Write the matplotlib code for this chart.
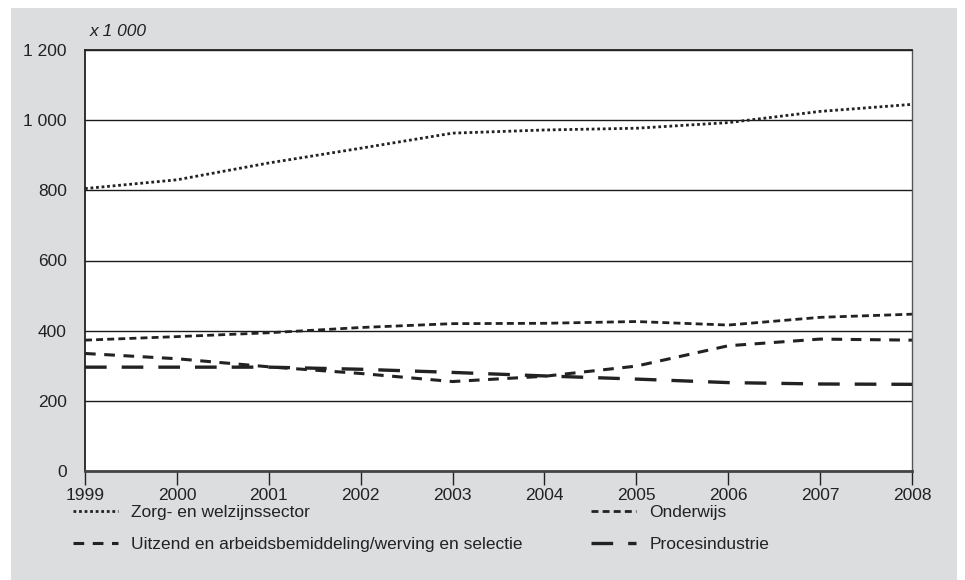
import matplotlib
matplotlib.use("Agg")
import matplotlib.pyplot as plt
from matplotlib.patches import Rectangle
from matplotlib.lines import Line2D

plt.rcParams['font.family'] = ['Liberation Sans', 'DejaVu Sans']

years = [1999, 2000, 2001, 2002, 2003, 2004, 2005, 2006, 2007, 2008]
zorg = [805, 830, 878, 920, 963, 972, 977, 993, 1025, 1045]
onderwijs = [373, 383, 394, 409, 420, 421, 426, 416, 438, 447]
uitzend = [335, 320, 297, 278, 255, 270, 299, 357, 376, 373]
proces = [296, 296, 296, 290, 281, 271, 262, 252, 248, 247]
yticks = [0, 200, 400, 600, 800, 1000, 1200]
ytick_labels = ['0', '200', '400', '600', '800', '1 000', '1 200']
labels = ['Zorg- en welzijnssector', 'Onderwijs',
          'Uitzend en arbeidsbemiddeling/werving en selectie', 'Procesindustrie']

W, H = 965, 580
fig = plt.figure(figsize=(W / 100, H / 100), dpi=100)
fig.patch.set_facecolor('white')
bg = Rectangle((11 / W, 0), (957 - 11) / W, (580 - 8) / H,
               transform=fig.transFigure, facecolor='#dcdddf',
               edgecolor='none', zorder=-10)
fig.patches.append(bg)

ax = fig.add_axes([85 / W, 1 - 471 / H, (912 - 85) / W, (471 - 50) / H])
ax.set_zorder(1)
ax.set_facecolor('white')

styles = {
    'zorg': dict(lw=2.0, ls=(0, (1, 1))),
    'onderwijs': dict(lw=2.0, ls=(0, (2.5, 1.5))),
    'uitzend': dict(lw=2.2, ls=(0, (3.5, 2.8))),
    'proces': dict(lw=2.4, ls=(0, (6.5, 4.5))),
}
col = '#222222'
l1, = ax.plot(years, zorg, color=col, **styles['zorg'])
l2, = ax.plot(years, onderwijs, color=col, **styles['onderwijs'])
l3, = ax.plot(years, uitzend, color=col, **styles['uitzend'])
l4, = ax.plot(years, proces, color=col, **styles['proces'])
for l in (l1, l2, l3, l4):
    l.set_dash_capstyle('butt')
    l.set_clip_on(False)

ax.set_xlim(1999, 2008)
ax.set_ylim(0, 1200)
ax.set_yticks(yticks)
ax.set_yticklabels(ytick_labels)
ax.set_xticks(years)
ax.set_xticklabels([str(y) for y in years])
ax.yaxis.grid(True, color='#1a1a1a', lw=1.0)
ax.set_axisbelow(True)
ax.tick_params(axis='y', length=0, pad=13, labelsize=12.5, colors=col)
ax.tick_params(axis='x', length=10, width=1.0, pad=2, labelsize=12.5,
               colors=col, direction='out')
for s in ('left', 'top'):
    ax.spines[s].set_color(col)
    ax.spines[s].set_linewidth(1.3)
ax.spines['right'].set_color('#555555')
ax.spines['right'].set_linewidth(1.0)
ax.spines['bottom'].set_color('#444444')
ax.spines['bottom'].set_linewidth(2.0)

fig.text(90 / W, 1 - 32 / H, 'x 1 000', fontsize=12.5, style='italic',
         color=col, va='center', ha='left')

h = lambda st: Line2D([], [], color=col, **st)
common = dict(loc='upper left', frameon=False, fontsize=12.5, handlelength=2.6,
              handletextpad=0.75, labelspacing=0.95, borderaxespad=0, borderpad=0)
leg1 = fig.legend([h(styles['zorg']), h(styles['uitzend'])], [labels[0], labels[2]],
                  bbox_to_anchor=(73 / W, 1 - 505 / H), **common)
leg2 = fig.legend([h(styles['onderwijs']), h(styles['proces'])], [labels[1], labels[3]],
                  bbox_to_anchor=(591 / W, 1 - 505 / H), **common)
for lg in (leg1, leg2):
    for t in lg.get_texts():
        t.set_color(col)

fig.savefig('out.png', dpi=100, facecolor=fig.get_facecolor())
